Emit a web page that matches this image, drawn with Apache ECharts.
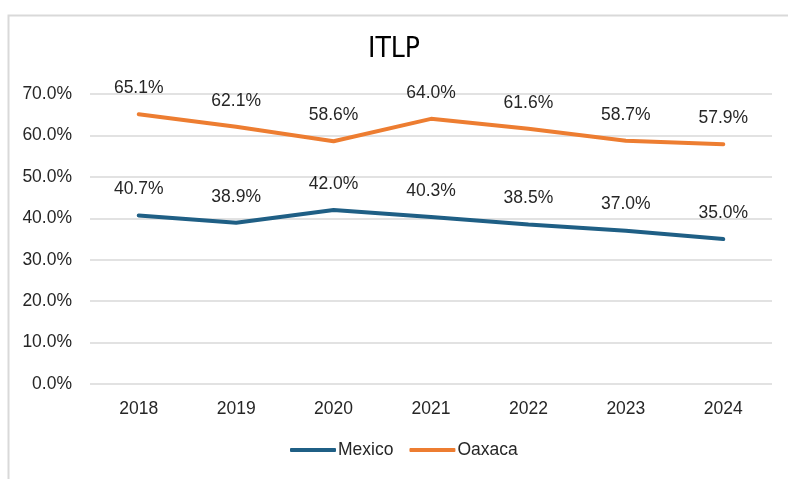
<!DOCTYPE html>
<html>
<head>
<meta charset="utf-8">
<script src="https://cdn.jsdelivr.net/npm/echarts@6/dist/echarts.min.js"></script>
<style>html,body{margin:0;padding:0;background:#fff}#c{width:788px;height:479px}</style>
</head>
<body>
<div id="c"></div>
<script>
const years = ['2018','2019','2020','2021','2022','2023','2024'];
const mexico = [40.7, 38.9, 42.0, 40.3, 38.5, 37.0, 35.0];
const oaxaca = [65.1, 62.1, 58.6, 64.0, 61.6, 58.7, 57.9];
const seriesNames = ['Mexico','Oaxaca'];
const titleText = 'ITLP';

const font = 'Liberation Sans, Arial, sans-serif';
const chart = echarts.init(document.getElementById('c'), null, {renderer:'canvas'});
const labelCfg = {
  show: true, position: 'top', distance: 17,
  formatter: p => p.value.toFixed(1) + '%',
  color: '#262626', fontSize: 17.5, fontFamily: font
};
chart.setOption({
  animation: false,
  graphic: [{
    type: 'rect', left: 6, top: 13, z: -1,
    shape: {width: 820, height: 520},
    style: {fill: 'none', stroke: '#d9d9d9', lineWidth: 2}
  }],
  title: {
    text: titleText, left: 'center', top: 31,
    textStyle: {fontSize: 28, fontWeight: 'normal', color: '#000',
      fontFamily: 'Liberation Sans Narrow, DejaVu Sans Condensed, sans-serif'}
  },
  grid: {left: 90, right: 16, top: 94, bottom: 95, containLabel: false},
  legend: {
    bottom: 15, left: 285, itemWidth: 46, itemHeight: 4, itemGap: 16,
    icon: 'roundRect',
    textStyle: {fontSize: 17.5, color: '#262626', fontFamily: font, padding: [0,0,0,-3]},
    data: seriesNames
  },
  xAxis: {
    type: 'category', data: years, boundaryGap: true,
    axisLine: {show: false}, axisTick: {show: false},
    axisLabel: {fontSize: 17.5, color: '#262626', fontFamily: font, margin: 16}
  },
  yAxis: {
    type: 'value', min: 0, max: 70, interval: 10,
    axisLabel: {fontSize: 17.5, color: '#262626', fontFamily: font, margin: 18,
      formatter: v => v.toFixed(1) + '%'},
    splitLine: {lineStyle: {color: '#d9d9d9', width: 1.5}},
    axisLine: {show: false}, axisTick: {show: false}
  },
  series: [
    {name: seriesNames[0], type: 'line', data: mexico, showSymbol: true, symbol: 'circle', symbolSize: 0.1,
     lineStyle: {color: '#1f5f85', width: 4, cap: 'round'}, itemStyle: {color: '#1f5f85'},
     label: labelCfg},
    {name: seriesNames[1], type: 'line', data: oaxaca, showSymbol: true, symbol: 'circle', symbolSize: 0.1,
     lineStyle: {color: '#ed7d31', width: 4, cap: 'round'}, itemStyle: {color: '#ed7d31'},
     label: labelCfg}
  ]
});
</script>
</body>
</html>
